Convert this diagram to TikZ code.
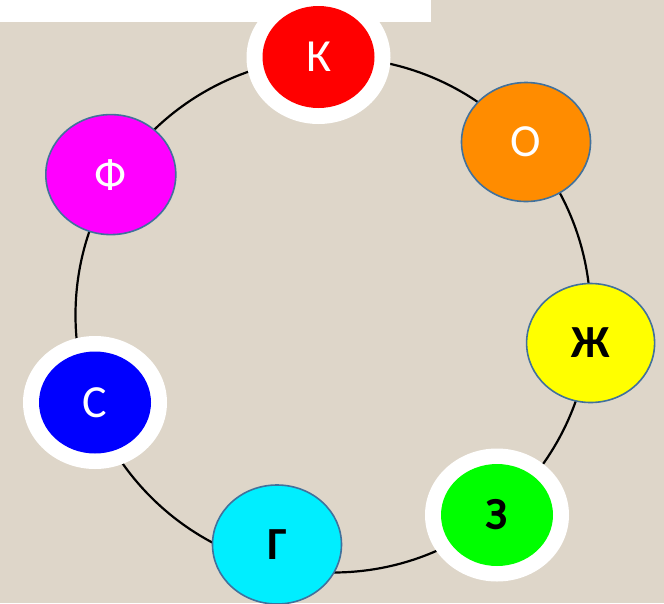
\documentclass[tikz,border=0pt]{standalone}
\usepackage{fontspec}
\setmainfont{Carlito}
\usetikzlibrary{shapes.geometric}
\definecolor{bgbeige}{RGB}{222,214,201}
\definecolor{rimblue}{HTML}{41719C}
\definecolor{korange}{HTML}{FF8C00}
\definecolor{kcyan}{HTML}{00EEFF}
\definecolor{kgreen}{HTML}{00FF00}
\definecolor{kred}{HTML}{FF0000}
\definecolor{kyellow}{HTML}{FFFF00}
\definecolor{kblue}{HTML}{0000FF}
\definecolor{kmagenta}{HTML}{FF00FF}
\begin{document}
\begin{tikzpicture}[x=1pt,y=-1pt,
  ball/.style={ellipse, inner sep=0pt, minimum width=129pt, minimum height=119pt,
    draw=rimblue, line width=1.6pt, font=\fontsize{46}{50}\selectfont},
  smallball/.style={ellipse, inner sep=0pt, minimum width=112pt, minimum height=102pt,
    font=\fontsize{46}{50}\selectfont},
  ring/.style={ellipse, inner sep=0pt, minimum width=144pt, minimum height=133pt, fill=white},
  loop/.style={draw=black, line width=2.2pt}]
\fill[bgbeige] (0,0) rectangle (664,603);
\useasboundingbox (0,0) rectangle (664,603);
\fill[white] (0,0) rectangle (431,22);
\coordinate (mid) at (333,315);
\draw[loop] (mid) circle (257.5pt);
% rings
\node[ring] (kring) at (318.5,57.5) {};
\node[ring] (zring) at (497,515) {};
\node[ring] (sring) at (95,402.5) {};
% balls
\node[smallball, fill=kred, text=white] (k) at (318.5,57) {К};
\node[ball, fill=korange, text=white] (o) at (526,142) {О};
\node[ball, fill=kyellow, text=black, minimum width=128pt] (zh) at (590.6,343) {\bfseries Ж};
\node[smallball, fill=kgreen, text=black] (z) at (497,515) {\bfseries З};
\node[ball, fill=kcyan, text=black] (g) at (277,544.5) {\bfseries Г};
\node[smallball, fill=kblue, text=white] (s) at (95,402.5) {С};
\node[ball, fill=kmagenta, text=white, minimum width=130pt, minimum height=120pt] (f) at (110.8,174.6) {Ф};
\end{tikzpicture}
\end{document}
